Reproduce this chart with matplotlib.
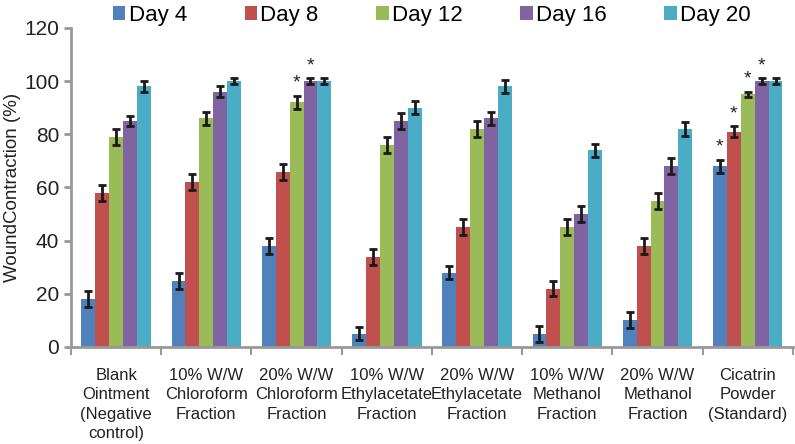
import matplotlib
matplotlib.use("Agg")
import matplotlib.pyplot as plt
import numpy as np

plt.rcParams['font.family'] = ['Liberation Sans', 'DejaVu Sans']

categories = ["Blank\nOintment\n(Negative\ncontrol)",
              "10% W/W\nChloroform\nFraction",
              "20% W/W\nChloroform\nFraction",
              "10% W/W\nEthylacetate\nFraction",
              "20% W/W\nEthylacetate\nFraction",
              "10% W/W\nMethanol\nFraction",
              "20% W/W\nMethanol\nFraction",
              "Cicatrin\nPowder\n(Standard)"]
days = ["Day 4", "Day 8", "Day 12", "Day 16", "Day 20"]

day4 = [18, 25, 38, 5, 28, 5, 10, 68]
day8 = [58, 62, 66, 34, 45, 22, 38, 81]
day12 = [79, 86, 92, 76, 82, 45, 55, 95]
day16 = [85, 96, 100, 85, 86, 50, 68, 100]
day20 = [98, 100, 100, 90, 98, 74, 82, 100]

err4 = [3, 3, 3, 2.5, 2.5, 3, 3, 2.5]
err8 = [3, 3, 3, 3, 3, 3, 3, 2]
err12 = [3, 2.5, 2.5, 3, 3, 3, 3, 1]
err16 = [2, 2, 1, 3, 2.5, 3, 3, 1]
err20 = [2, 1, 1, 2.5, 2.5, 2.5, 2.5, 1]

# significance stars: (category index, day index)
stars = [(2, 2), (2, 3), (7, 0), (7, 1), (7, 2), (7, 3)]

colors = ["#4F81BD", "#C0504D", "#9BBB59", "#8064A2", "#4BACC6"]
values = [day4, day8, day12, day16, day20]
errors = [err4, err8, err12, err16, err20]

fig = plt.figure(figsize=(7.95, 4.44), dpi=100)
ax = fig.add_axes([0.0893, 0.2185, 0.908, 0.7185])

x = np.arange(len(categories))
w = 0.154
for i in range(5):
    ax.bar(x + (i - 2) * w, values[i], w, color=colors[i], label=days[i],
           yerr=errors[i], error_kw=dict(ecolor="#1a1a1a", elinewidth=2,
                                         capsize=3, capthick=2))

for c, d in stars:
    ax.text(c + (d - 2) * w, values[d][c] + errors[d][c] + 1.5, "*",
            ha="center", va="bottom", fontsize=14, color="#222222")

ax.set_xlim(-0.5, len(categories) - 0.5)
ax.set_ylim(0, 120)
ax.set_yticks([0, 20, 40, 60, 80, 100, 120])
ax.tick_params(axis="y", labelsize=15, colors="#999999", labelcolor="#222222",
               length=5, width=2, direction="out")

ax.set_xticks(np.arange(len(categories) + 1) - 0.5)
ax.set_xticklabels([])
ax.tick_params(axis="x", which="major", length=6, width=1.5, colors="#999999",
               direction="out")
ax.set_xticks(x, minor=True)
ax.set_xticklabels(categories, minor=True)
ax.tick_params(axis="x", which="minor", length=0, pad=15)
for t in ax.get_xticklabels(minor=True):
    t.set_fontsize(12)
    t.set_family(['Liberation Sans Narrow', 'Liberation Sans'])
    t.set_linespacing(1.38)
    t.set_color("#222222")

for s in ["top", "right"]:
    ax.spines[s].set_visible(False)
for s in ["left", "bottom"]:
    ax.spines[s].set_color("#999999")
    ax.spines[s].set_linewidth(2)

ax.set_ylabel("WoundContraction (%)", fontsize=13.5, color="#222222", labelpad=2)

leg = ax.legend(loc="upper center", bbox_to_anchor=(0.5, 1.135), ncol=5,
                frameon=False, fontsize=16, handlelength=0.55, handleheight=0.55,
                handletextpad=0.15, columnspacing=2.6)

fig.savefig("out.png", dpi=100)
